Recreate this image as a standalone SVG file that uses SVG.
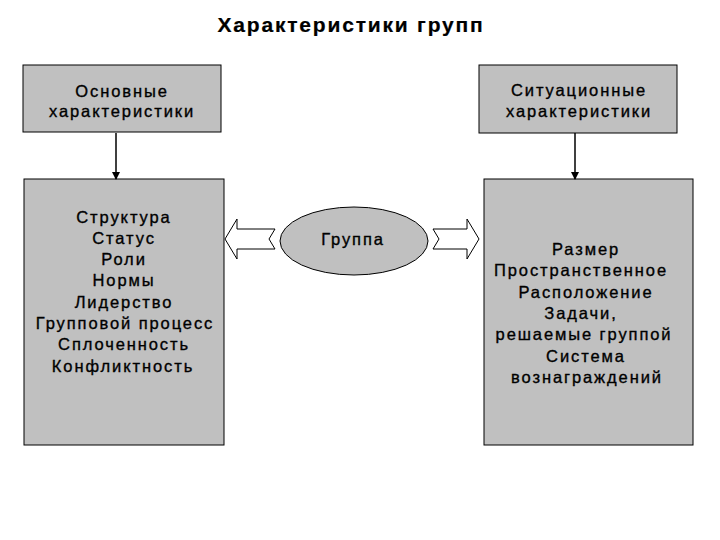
<svg xmlns="http://www.w3.org/2000/svg" width="720" height="540" viewBox="0 0 720 540">
<defs>
<style>
text{font-family:"Liberation Sans",Arial,sans-serif;font-size:16.5px;letter-spacing:1.9px;fill:#000;stroke:#000;stroke-width:0.35px;text-anchor:middle}
.title{font-size:21px;font-weight:bold;letter-spacing:1.8px;stroke-width:0.2px}
.box{fill:#c0c0c0;stroke:#000;stroke-width:1}
.blk{fill:#fff;stroke:#000;stroke-width:1}
.ln{stroke:#000;stroke-width:1.5;fill:none}
</style>
<marker id="ah" markerWidth="8" markerHeight="8" refX="7" refY="4" orient="auto" markerUnits="userSpaceOnUse">
<path d="M0,0 L8,4 L0,8 Z" fill="#000"/>
</marker>
</defs>
<rect width="720" height="540" fill="#fff"/>
<text class="title" x="351" y="31.5">Характеристики групп</text>
<g id="node-basic">
<rect class="box" x="23" y="65" width="198" height="67"/>
<text x="122" y="96.5">Основные</text>
<text x="122" y="117">характеристики</text>
</g>
<g id="node-situational">
<rect class="box" x="479" y="65" width="198" height="68"/>
<text x="579" y="96">Ситуационные</text>
<text x="579" y="116.5">характеристики</text>
</g>
<g id="node-basic-list">
<rect class="box" x="24" y="179" width="200" height="266"/>
<text x="124" y="222.5">Структура</text>
<text x="124" y="243.8">Статус</text>
<text x="124" y="265.1">Роли</text>
<text x="124" y="286.4">Нормы</text>
<text x="124" y="307.7">Лидерство</text>
<text x="125" y="329">Групповой процесс</text>
<text x="124" y="350.3">Сплоченность</text>
<text x="123" y="371.6">Конфликтность</text>
</g>
<g id="node-situational-list">
<rect class="box" x="484" y="179" width="209" height="266"/>
<text x="586" y="255">Размер</text>
<text x="581" y="276.3">Пространственное</text>
<text x="586" y="297.6">Расположение</text>
<text x="581" y="318.9">Задачи,</text>
<text x="584" y="340.2">решаемые группой</text>
<text x="586" y="361.5">Система</text>
<text x="587" y="382.8">вознаграждений</text>
</g>
<g id="node-group">
<ellipse class="box" cx="354" cy="241" rx="74" ry="34"/>
<text x="353" y="245">Группа</text>
</g>
<g id="connectors">
<line class="ln" x1="116" y1="133" x2="116" y2="179" marker-end="url(#ah)"/>
<line class="ln" x1="575" y1="133" x2="575" y2="179" marker-end="url(#ah)"/>
<path class="blk" d="M225,239 L237,219 L237,229 L275,229 L269,239 L275,249 L237,249 L237,259 Z"/>
<path class="blk" d="M479,239 L467,219 L467,229 L433,229 L439,239 L433,249 L467,249 L467,259 Z"/>
</g>
</svg>
